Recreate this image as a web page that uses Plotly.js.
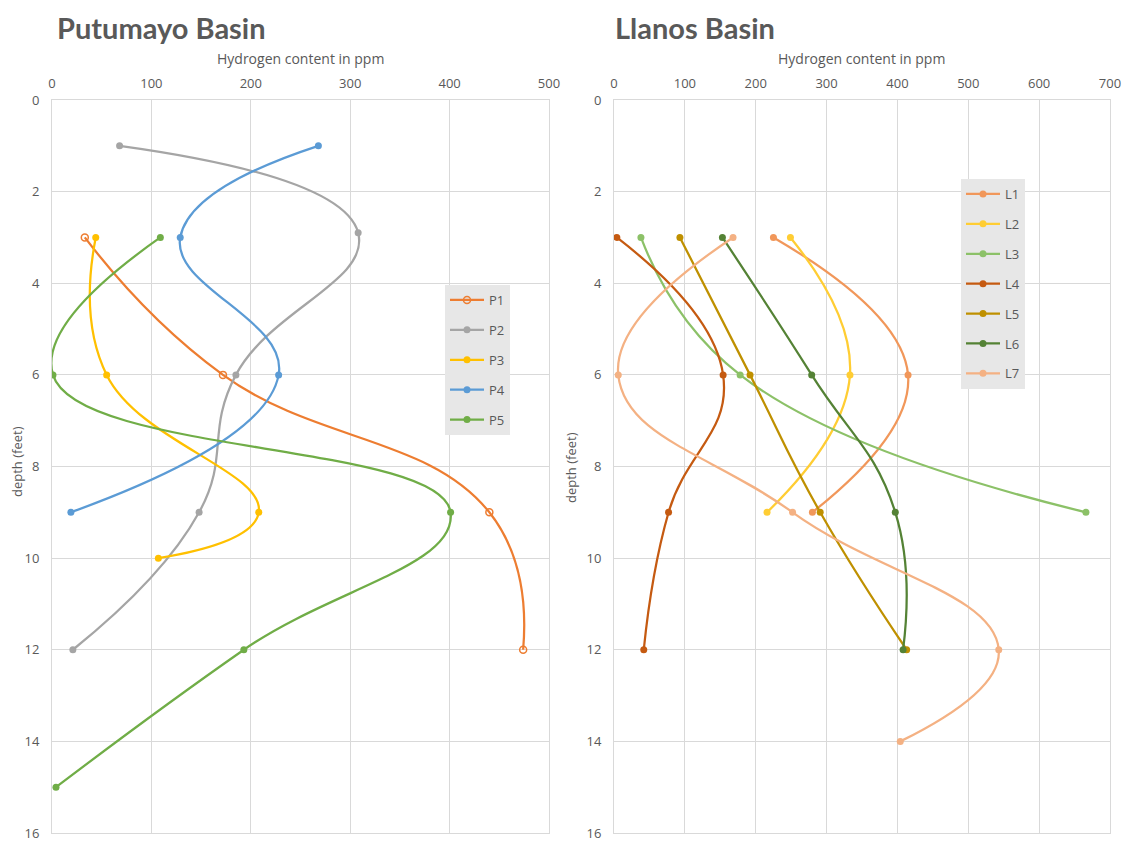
<!DOCTYPE html>
<html>
<head>
<meta charset="utf-8">
<script src="https://cdn.plot.ly/plotly-3.0.1.min.js"></script>
<style>html,body{margin:0;padding:0;background:#fff;}#chart{width:1126px;height:843px;}</style>
</head>
<body>
<div id="chart"></div>
<script>
// Putumayo Basin series (hydrogen ppm, depth feet)
const P1_x = [33, 172, 440, 474];
const P1_y = [3, 6, 9, 12];
const P2_x = [68, 308, 185, 148, 21];
const P2_y = [1, 2.9, 6, 9, 12];
const P3_x = [44, 55, 208, 107];
const P3_y = [3, 6, 9, 10];
const P4_x = [268, 129, 228, 19];
const P4_y = [1, 3, 6, 9];
const P5_x = [109, 1, 401, 193, 4];
const P5_y = [3, 6, 9, 12, 15];

// Llanos Basin series
const L1_x = [225, 415, 280];
const L1_y = [3, 6, 9];
const L2_x = [249, 333, 216];
const L2_y = [3, 6, 9];
const L3_x = [38, 178, 666];
const L3_y = [3, 6, 9];
const L4_x = [4, 154, 77, 42];
const L4_y = [3, 6, 9, 12];
const L5_x = [93, 192, 291, 413];
const L5_y = [3, 6, 9, 12];
const L6_x = [153, 279, 397, 408];
const L6_y = [3, 6, 9, 12];
const L7_x = [168, 6, 252, 543, 404];
const L7_y = [3, 6, 9, 12, 14];

const leftTicks = [0, 100, 200, 300, 400, 500];
const rightTicks = [0, 100, 200, 300, 400, 500, 600, 700];
const depthTicks = [0, 2, 4, 6, 8, 10, 12, 14, 16];

const TITLE_FONT = 'Lato, "Open Sans", sans-serif';
const FONT = '"Open Sans", Lato, sans-serif';
const TXT = '#595959';

function tr(name, x, y, color, xa, ya, leg, open) {
  return {
    type: 'scatter', mode: 'lines+markers', name: name, x: x, y: y,
    xaxis: xa, yaxis: ya, legend: leg, legendgroup: name,
    line: {color: color, width: 2.25, shape: 'spline', smoothing: 1.3},
    marker: open ? {symbol: 'circle-open', size: 7, color: color, line: {width: 1.5, color: color}}
                 : {symbol: 'circle', size: 7, color: color},
    cliponaxis: true
  };
}

const data = [
  tr('P1', P1_x, P1_y, '#ED7D31', 'x', 'y', 'legend', true),
  tr('P2', P2_x, P2_y, '#A5A5A5', 'x', 'y', 'legend'),
  tr('P3', P3_x, P3_y, '#FFC000', 'x', 'y', 'legend'),
  tr('P4', P4_x, P4_y, '#5B9BD5', 'x', 'y', 'legend'),
  tr('P5', P5_x, P5_y, '#70AD47', 'x', 'y', 'legend'),
  tr('L1', L1_x, L1_y, '#F1975A', 'x2', 'y2', 'legend2'),
  tr('L2', L2_x, L2_y, '#FFCD33', 'x2', 'y2', 'legend2'),
  tr('L3', L3_x, L3_y, '#8CC168', 'x2', 'y2', 'legend2'),
  tr('L4', L4_x, L4_y, '#C55A11', 'x2', 'y2', 'legend2'),
  tr('L5', L5_x, L5_y, '#BF9000', 'x2', 'y2', 'legend2'),
  tr('L6', L6_x, L6_y, '#548235', 'x2', 'y2', 'legend2'),
  tr('L7', L7_x, L7_y, '#F4B183', 'x2', 'y2', 'legend2')
];

const W = 1126, H = 843;
const BOTTOM = 833;
function xax(d, ticks, range, anchor) {
  return {
    domain: d, range: range, side: 'top', anchor: anchor,
    tickvals: ticks, ticktext: ticks.map(String), ticks: '',
    ticklabelstandoff: 6, ticklabeloverflow: 'allow',
    showgrid: true, gridcolor: '#D9D9D9', gridwidth: 1,
    showline: true, linecolor: '#D9D9D9', mirror: true, zeroline: false,
    tickfont: {family: FONT, size: 13, color: TXT},
    fixedrange: true
  };
}
function yax(anchor) {
  return {
    domain: [1 - BOTTOM / H, 1 - 100 / H], range: [16, 0], anchor: anchor,
    tickvals: depthTicks, ticktext: depthTicks.map(String), ticks: '',
    ticklabelstandoff: 9, ticklabeloverflow: 'allow',
    showgrid: true, gridcolor: '#D9D9D9', gridwidth: 1,
    showline: true, linecolor: '#D9D9D9', mirror: true, zeroline: false,
    tickfont: {family: FONT, size: 13, color: TXT},
    fixedrange: true
  };
}

const legStyle = (x, y) => ({
  x: x, y: y, xanchor: 'left', yanchor: 'top',
  bgcolor: '#E7E7E7', borderwidth: 0,
  font: {family: FONT, size: 13, color: TXT},
  traceorder: 'grouped', tracegroupgap: 10, itemwidth: 34
});

function ann(text, x, y, size, fam, angle, xanchor) {
  return {text: text, xref: 'paper', yref: 'paper', x: x / W, y: 1 - y / H,
    xanchor: xanchor || 'center', yanchor: 'middle', showarrow: false, textangle: angle || 0,
    font: {family: fam, size: size, color: TXT}};
}

const layout = {
  width: W, height: H,
  margin: {l: 0, r: 0, t: 0, b: 0},
  paper_bgcolor: '#FFFFFF', plot_bgcolor: '#FFFFFF',
  showlegend: true,
  xaxis: xax([52 / W, 549 / W], leftTicks, [0, 500], 'y'),
  yaxis: yax('x'),
  xaxis2: xax([614 / W, 1110 / W], rightTicks, [0, 700], 'y2'),
  yaxis2: yax('x2'),
  legend: legStyle(445 / W, 1 - 285 / H),
  legend2: legStyle(961 / W, 1 - 179 / H),
  annotations: [
    ann('<b>Putumayo Basin</b>', 55, 27, 29, TITLE_FONT, 0, 'left'),
    ann('<b>Llanos Basin</b>', 613, 27, 29, TITLE_FONT, 0, 'left'),
    ann('Hydrogen content in ppm', 300, 58, 14, FONT),
    ann('Hydrogen content in ppm', 861, 58, 14, FONT),
    ann('depth (feet)', 17, 462, 13, FONT, -90),
    ann('depth (feet)', 571, 468, 13, FONT, -90)
  ]
};

Plotly.newPlot('chart', data, layout, {displayModeBar: false, staticPlot: true});
</script>
</body>
</html>
